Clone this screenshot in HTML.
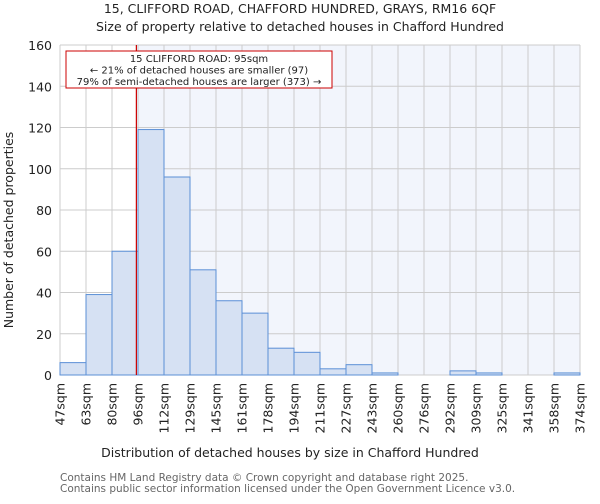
<!DOCTYPE html>
<html><head><meta charset="utf-8"><style>
body{margin:0;background:#fff;font-family:"DejaVu Sans","Liberation Sans",sans-serif}
</style></head><body>
<svg width="600" height="500" xmlns="http://www.w3.org/2000/svg" font-family="DejaVu Sans, Liberation Sans, sans-serif">
<text x="300" y="13" text-anchor="middle" font-size="12.5" fill="#222">15, CLIFFORD ROAD, CHAFFORD HUNDRED, GRAYS, RM16 6QF</text>
<text x="300" y="31" text-anchor="middle" font-size="12.5" fill="#222">Size of property relative to detached houses in Chafford Hundred</text>
<g id="plot"></g>
<text x="290" y="457" text-anchor="middle" font-size="12.5" fill="#222">Distribution of detached houses by size in Chafford Hundred</text>
<text transform="translate(13,230) rotate(-90)" text-anchor="middle" font-size="12.5" fill="#222">Number of detached properties</text>
<text x="60" y="481" font-size="10.5" fill="#666">Contains HM Land Registry data © Crown copyright and database right 2025.</text>
<text x="60" y="492" font-size="10.5" fill="#666">Contains public sector information licensed under the Open Government Licence v3.0.</text>
</svg>
<script>
const binLabels=["47sqm","63sqm","80sqm","96sqm","112sqm","129sqm","145sqm","161sqm","178sqm","194sqm","211sqm","227sqm","243sqm","260sqm","276sqm","292sqm","309sqm","325sqm","341sqm","358sqm","374sqm"];
const binEdges=[47,63,80,96,112,129,145,161,178,194,211,227,243,260,276,292,309,325,341,358,374];
const counts=[6,39,60,119,96,51,36,30,13,11,3,5,1,0,0,2,1,0,0,1];
const yTicks=[0,20,40,60,80,100,120,140,160];
const propertySize=95;
const NS="http://www.w3.org/2000/svg";
const L=60,R=580,T=45,B=375,yMax=160;
const bw=(R-L)/counts.length;
const xi=i=>L+i*bw;
const y=v=>B-(v/yMax)*(B-T);
function xv(v){for(let i=0;i<binEdges.length-1;i++){if(v<=binEdges[i+1]){return xi(i)+(v-binEdges[i])/(binEdges[i+1]-binEdges[i])*bw;}}return R;}
const g=document.getElementById('plot');
function mk(t,a){const e=document.createElementNS(NS,t);for(const k in a)e.setAttribute(k,a[k]);g.appendChild(e);return e;}
const rx=xv(propertySize);
let e=mk('rect',{x:rx,y:T,width:R-rx,height:B-T,fill:'#f2f5fc'});


for(let i=0;i<binLabels.length;i++){const l=mk('line',{x1:xi(i),x2:xi(i),y1:T,y2:B,stroke:'#cccccc','stroke-width':1});

}
yTicks.forEach(t=>{const l=mk('line',{x1:L,x2:R,y1:y(t),y2:y(t),stroke:'#cccccc','stroke-width':1});


const tx=mk('text',{x:L-8,y:y(t)+5,'text-anchor':'end','font-size':12.5,fill:'#222'});tx.textContent=t;

});
counts.forEach((c,i)=>{if(c<=0)return;const r=mk('rect',{x:xi(i),y:y(c),width:bw,height:B-y(c),fill:'#d6e1f3',stroke:'#5b8fd6','stroke-width':1});

});
binLabels.forEach((s,i)=>{const tx=mk('text',{transform:`translate(${xi(i)+4.5},383) rotate(-90)`,'text-anchor':'end','font-size':12.5,fill:'#222'});tx.textContent=s;

});
e=mk('line',{x1:rx,x2:rx,y1:T,y2:B,stroke:'#cc0000','stroke-width':1.2});


e=mk('rect',{x:66,y:51,width:266,height:37,fill:'#fff',stroke:'#cc0000','stroke-width':1});


["15 CLIFFORD ROAD: 95sqm","← 21% of detached houses are smaller (97)","79% of semi-detached houses are larger (373) →"].forEach((s,i)=>{const tx=mk('text',{x:199,y:62+i*11.5,'text-anchor':'middle','font-size':10,fill:'#222'});tx.textContent=s;

});
</script>
</body></html>
